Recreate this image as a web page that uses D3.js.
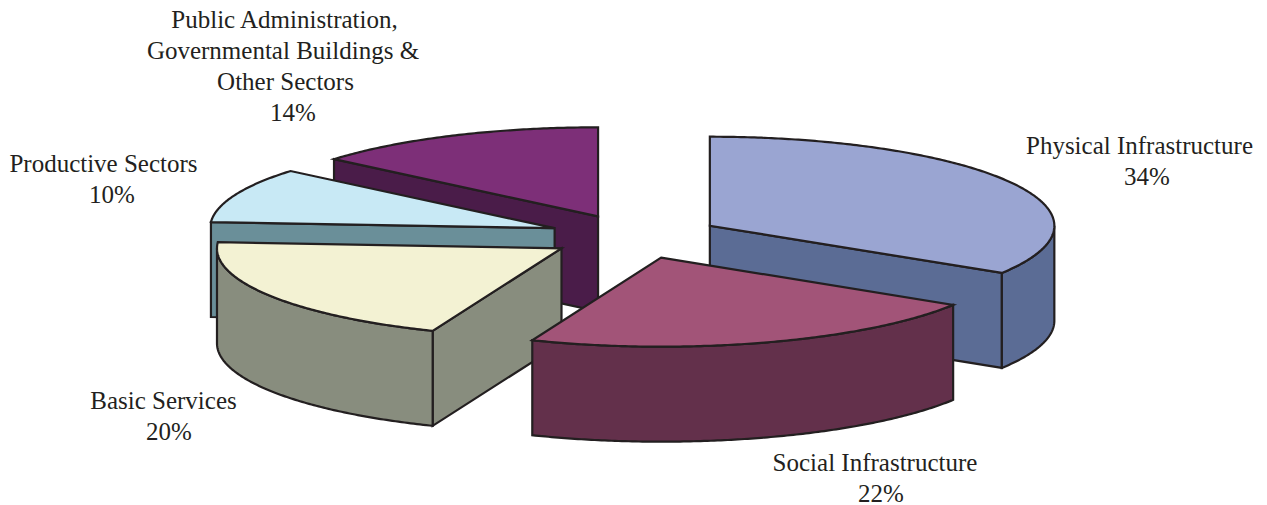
<!DOCTYPE html>
<html>
<head>
<meta charset="utf-8">
<script src="https://cdn.jsdelivr.net/npm/d3@7"></script>
<style>
  html, body { margin: 0; background: #fff; }
  text { font-family: "Liberation Serif", serif; font-size: 25px; fill: #231f20; text-anchor: middle; }
  path { stroke: #231f20; stroke-width: 2.2; stroke-linejoin: miter; }
</style>
</head>
<body>
<svg id="chart" width="1267" height="505"></svg>
<script>
const categories = ['Physical Infrastructure', 'Social Infrastructure', 'Basic Services', 'Productive Sectors', 'Public Administration, Governmental Buildings & Other Sectors'];
const values = [33.9, 22.2, 20, 10, 13.9];
const labelLines = [
  ['Physical Infrastructure', '34%'],
  ['Social Infrastructure', '22%'],
  ['Basic Services', '20%'],
  ['Productive Sectors', '10%'],
  ['Public Administration,', 'Governmental Buildings &', 'Other Sectors', '14%']
];
const topColors = ['#9aa5d2', '#a25478', '#f3f2d3', '#c8e9f5', '#7d2f78'];
const sideColors = ['#5b6c95', '#63304b', '#888d7e', '#6a8f99', '#4a1c49'];

// label anchors per line, first baseline
const labelX = [
  [1139.5, 1147],
  [875, 881],
  [163.5, 169],
  [103.5, 112],
  [284.5, 283, 285.5, 293]
];
const labelY = [153.5, 470.5, 408.5, 171.5, 27.5];
const lineHeight = 31.2;

const depth = 95;
const explode = 0.25;
const x = d3.scaleLinear().domain([-1, 1]).range([290, 979]);
const y = d3.scaleLinear().domain([-1, 1]).range([147.5, 325.5]);

const svg = d3.select('#chart');
const TAU = 2 * Math.PI;

const arcs = d3.pie().sort(null).startAngle(0).endAngle(TAU)(values);

const line = d3.line().x(p => p[0]).y(p => p[1]);

function apex(a) {
  const mid = (a.startAngle + a.endAngle) / 2;
  return [x(explode * Math.sin(mid)), y(-explode * Math.cos(mid))];
}

function rim(a, angle) {
  const mid = (a.startAngle + a.endAngle) / 2;
  return [x(explode * Math.sin(mid) + Math.sin(angle)), y(-explode * Math.cos(mid) - Math.cos(angle))];
}

function rimPoints(a, from, to) {
  const n = Math.max(2, Math.ceil((to - from) / 0.01));
  return d3.range(n + 1).map(i => rim(a, from + (to - from) * i / n));
}

const down = p => [p[0], p[1] + depth];

const slices = arcs
  .map((a, i) => ({ a, i, apexY: apex(a)[1] }))
  .sort((p, q) => p.apexY - q.apexY);

const g = svg.selectAll('g.slice').data(slices).enter().append('g').attr('class', 'slice');

g.each(function (d) {
  const sel = d3.select(this);
  const a = d.a;
  const c = apex(a);
  const walls = [];

  // cut faces, only those turned to the viewer
  if (Math.sin(a.startAngle) < -1e-6) {
    const r = rim(a, a.startAngle);
    walls.push([c, r, down(r), down(c)]);
  }
  if (Math.sin(a.endAngle) > 1e-6) {
    const r = rim(a, a.endAngle);
    walls.push([c, r, down(r), down(c)]);
  }

  // outer skin, front half of the ellipse
  const from = Math.max(a.startAngle, Math.PI / 2);
  const to = Math.min(a.endAngle, 3 * Math.PI / 2);
  if (to > from) {
    const pts = rimPoints(a, from, to);
    walls.push(pts.concat(pts.slice().reverse().map(down)));
  }

  sel.selectAll('path.side').data(walls).enter().append('path')
    .attr('class', 'side')
    .attr('fill', sideColors[d.i])
    .attr('d', w => line(w) + 'Z');

  sel.append('path')
    .attr('class', 'top')
    .attr('fill', topColors[d.i])
    .attr('d', line([c].concat(rimPoints(a, a.startAngle, a.endAngle))) + 'Z');
});

const labels = svg.selectAll('text.label').data(labelLines).enter().append('text')
  .attr('class', 'label')
  .attr('aria-label', (_, i) => categories[i]);

labels.selectAll('tspan').data((d, i) => d.map((t, j) => ({ t, i, j }))).enter().append('tspan')
  .attr('x', d => labelX[d.i][d.j])
  .attr('y', d => labelY[d.i] + d.j * lineHeight)
  .text(d => d.t);
</script>
</body>
</html>
